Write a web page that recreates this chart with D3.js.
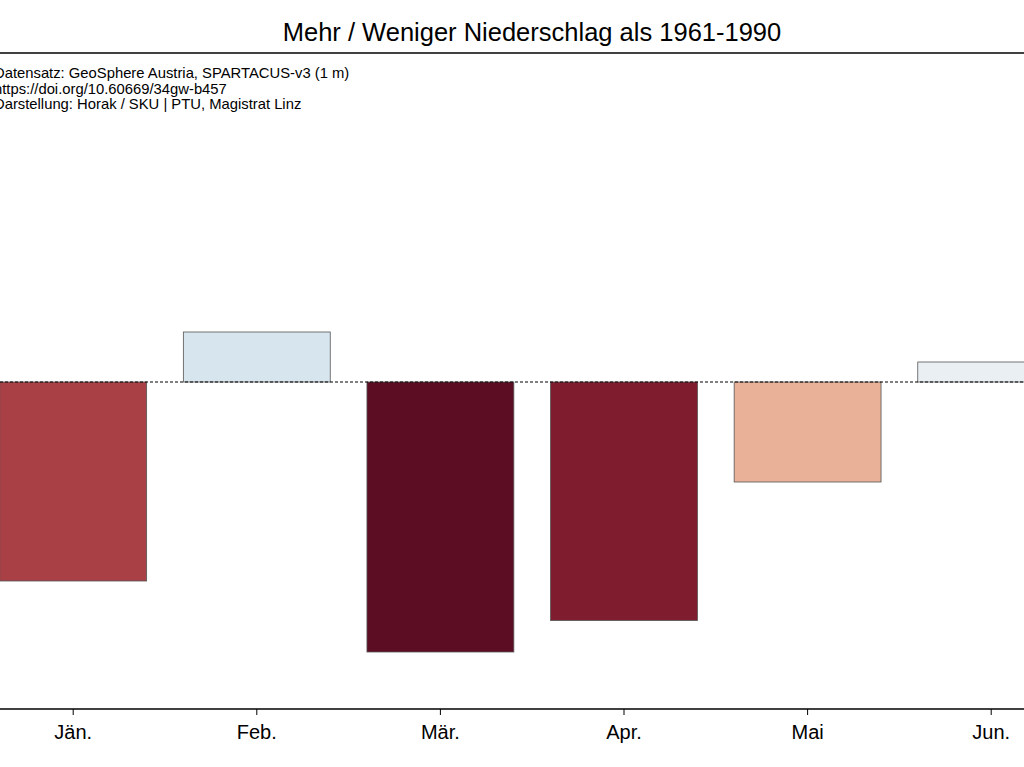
<!DOCTYPE html>
<html>
<head>
<meta charset="utf-8">
<script src="https://cdn.jsdelivr.net/npm/d3@7"></script>
<style>
  body { margin: 0; background: #fff; }
  svg { display: block; font-family: "Liberation Sans", Arial, sans-serif; }
</style>
</head>
<body>
<div id="chart"></div>
<script>
// months shown and deviation from 1961-1990 (approx., mm)
const months = ["Jän.", "Feb.", "Mär.", "Apr.", "Mai", "Jun."];
const deviation = [-39.8, 10.0, -54.0, -47.7, -20.0, 4.0];
const barColors = ["#a84046", "#d7e5ee", "#5c0d23", "#7f1d2f", "#e8b198", "#eaeff3"];
const sourceLines = [
  "Datensatz: GeoSphere Austria, SPARTACUS-v3 (1 m)",
  "https://doi.org/10.60669/34gw-b457",
  "Darstellung: Horak / SKU | PTU, Magistrat Linz"
];

const width = 1024, height = 767;
const plotTop = 53, plotBottom = 709;

const svg = d3.select("#chart")
  .append("svg")
  .attr("width", width)
  .attr("height", height);

// band scale; the plot is cut off on both sides like the original
const step = 183.6;
const firstCenter = 73.2;
const x = d3.scaleBand()
  .domain(months)
  .range([firstCenter - step / 2, firstCenter - step / 2 + step * months.length])
  .paddingInner(0.2)
  .paddingOuter(0.1);

const y = d3.scaleLinear()
  .domain([-65.4, 65.8])
  .range([plotBottom, plotTop]);

// bars
svg.selectAll("rect.bar")
  .data(deviation)
  .join("rect")
  .attr("class", "bar")
  .attr("x", (d, i) => x(months[i]))
  .attr("width", x.bandwidth())
  .attr("y", d => y(Math.max(0, d)))
  .attr("height", d => Math.abs(y(d) - y(0)))
  .attr("fill", (d, i) => barColors[i])
  .attr("stroke", "#555")
  .attr("stroke-width", 0.8);

// zero line
svg.append("line")
  .attr("x1", 0)
  .attr("x2", width)
  .attr("y1", y(0))
  .attr("y2", y(0))
  .attr("stroke", "#000")
  .attr("stroke-width", 1)
  .attr("stroke-dasharray", "3,2");

// top spine
svg.append("line")
  .attr("x1", 0)
  .attr("x2", width)
  .attr("y1", plotTop)
  .attr("y2", plotTop)
  .attr("stroke", "#000")
  .attr("stroke-width", 1.3);

// x axis
const xAxis = svg.append("g")
  .attr("transform", `translate(0,${plotBottom})`)
  .call(d3.axisBottom(x).tickSize(6).tickPadding(10));
xAxis.select(".domain")
  .attr("d", `M0,0H${width}`)
  .attr("stroke-width", 1.3);
xAxis.selectAll(".tick line").attr("stroke-width", 1);
xAxis.selectAll(".tick text")
  .style("font-size", "20px")
  .style("font-family", "\"Liberation Sans\", Arial, sans-serif")
  .attr("fill", "#000");

// title
svg.append("text")
  .attr("x", 532)
  .attr("y", 41)
  .attr("text-anchor", "middle")
  .style("font-size", "25.5px")
  .text("Mehr / Weniger Niederschlag als 1961-1990");

// source credit
svg.selectAll("text.source")
  .data(sourceLines)
  .join("text")
  .attr("class", "source")
  .attr("x", -6)
  .attr("y", (d, i) => 78.2 + i * 15.6)
  .style("font-size", "14.8px")
  .text(d => d);
</script>
</body>
</html>
